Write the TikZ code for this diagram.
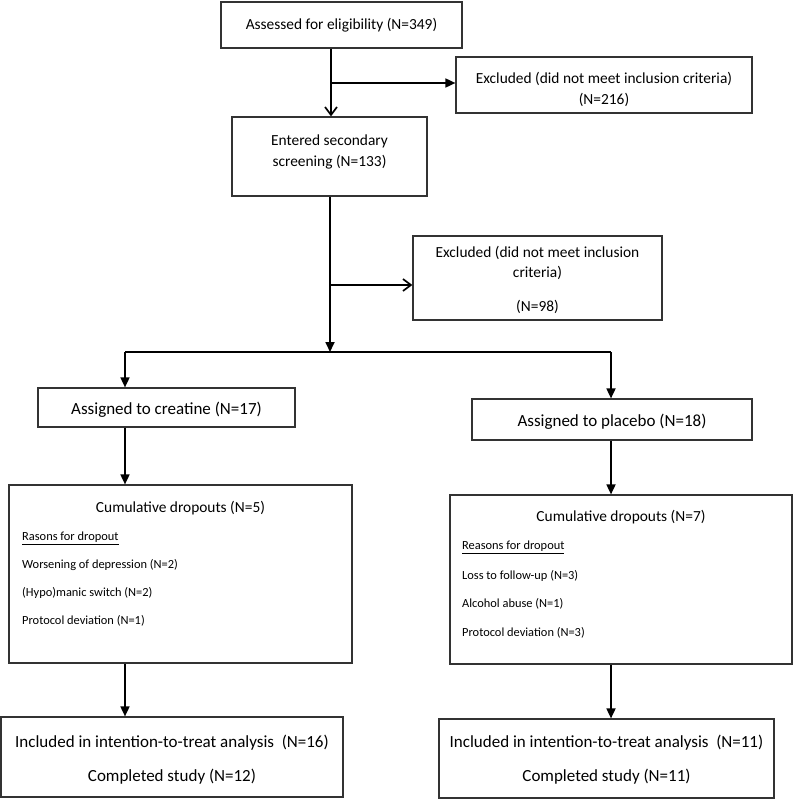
\documentclass[tikz,border=0pt]{standalone}
\usepackage{fontspec}
\setmainfont{Carlito}
\usetikzlibrary{arrows.meta}
\def\midfont{\fontsize{15.4}{21}\selectfont}
\def\bigfont{\fontsize{17}{34}\selectfont}
\def\smallfont{\fontsize{12.4}{15}\selectfont}
\tikzset{
  stage box/.style={draw=black!80, line width=1.2pt, inner sep=0pt},
  stage text/.style={inner sep=0pt, align=center, font=\midfont},
  reason/.style={inner sep=0pt, anchor=west, font=\smallfont},
  flow/.style={draw=black, line width=1.7pt, -{Triangle[width=9pt,length=10pt]}},
  open flow/.style={draw=black, line width=1.7pt, -{Straight Barb[width=12pt,length=8pt]}},
  link/.style={draw=black, line width=1.7pt}
}
% box from (x1,y1) to (x2,y2)
\def\Stage#1#2#3#4#5{%
  \node[stage box, minimum width={(#4-#2)*1pt}, minimum height={(#5-#3)*1pt}]
    (#1) at ({(#2+#4)/2},{(#3+#5)/2}) {};
}

\begin{document}
\begin{tikzpicture}[x=1pt, y=-1pt]
\useasboundingbox (0,0) rectangle (794,800);
\Stage{assess}{221}{2}{462}{48}
\Stage{exclA}{456}{57}{752}{113}
\Stage{screen}{232}{117}{427}{196}
\Stage{exclB}{413}{236}{662}{320}
\Stage{creat}{38}{388}{295}{427}
\Stage{plac}{472}{399}{752}{440}
\Stage{creatDrop}{9}{485}{352}{663}
\Stage{placDrop}{450}{495}{792}{664}
\Stage{creatEnd}{1}{717}{343}{797}
\Stage{placEnd}{439}{719}{774}{798}

\node[stage text] (assessT) at (341.5,25) {Assessed for eligibility (N=349)};
\node[stage text] (exclAT) at (604,89.5) {Excluded (did not meet inclusion criteria)\\(N=216)};
\node[stage text] (screenT) at (329.5,151.5) {Entered secondary\\screening (N=133)};
\node[stage text, font=\fontsize{15.4}{20}\selectfont] (exclBT) at (537.5,280)
  {Excluded (did not meet inclusion\\criteria)\\[14pt](N=98)};
\node[stage text, font=\bigfont] (creatT) at (166.5,409.5) {Assigned to creatine (N=17)};
\node[stage text, font=\bigfont] (placT) at (612,421.5) {Assigned to placebo (N=18)};

\node[stage text] (creatDropT) at (180.5,508) {Cumulative dropouts (N=5)};
\node[reason] (cr0) at (22,538) {\underline{Rasons for dropout}};
\node[reason] (cr1) at (22,565) {Worsening of depression (N=2)};
\node[reason] (cr2) at (22,593) {(Hypo)manic switch (N=2)};
\node[reason] (cr3) at (22,621) {Protocol deviation (N=1)};

\node[stage text] (placDropT) at (621,517) {Cumulative dropouts (N=7)};
\node[reason] (pr0) at (462,547) {\underline{Reasons for dropout}};
\node[reason] (pr1) at (462,576) {Loss to follow-up (N=3)};
\node[reason] (pr2) at (462,604) {Alcohol abuse (N=1)};
\node[reason] (pr3) at (462,633) {Protocol deviation (N=3)};

\node[stage text, font=\bigfont] (creatEndT) at (172,760)
  {Included in intention-to-treat analysis~~(N=16)\\Completed study (N=12)};
\node[stage text, font=\bigfont] (placEndT) at (606.5,760)
  {Included in intention-to-treat analysis~~(N=11)\\Completed study (N=11)};

\coordinate (splitA) at (331,83);
\coordinate (splitB) at (330,285);
\coordinate (fork) at (330,352);
\coordinate (forkL) at (125,352);
\coordinate (forkR) at (611,352);

\draw[link] (assess.south -| splitA) -- (splitA);
\draw[open flow] (splitA) -- (screen.north -| splitA);
\draw[flow] (splitA) -- (splitA -| exclA.west);
\draw[link] (screen.south -| splitB) -- (splitB);
\draw[open flow] (splitB) -- (splitB -| exclB.west);
\draw[flow] (splitB) -- (fork);
\draw[link] (forkL) -- (forkR);
\draw[flow] (forkL) -- (forkL |- creat.north);
\draw[flow] (forkR) -- (forkR |- plac.north);
\draw[flow] (forkL |- creat.south) -- (forkL |- creatDrop.north);
\draw[flow] (forkR |- plac.south) -- (forkR |- placDrop.north);
\draw[flow] (forkL |- creatDrop.south) -- (forkL |- creatEnd.north);
\draw[flow] (forkR |- placDrop.south) -- (forkR |- placEnd.north);
\end{tikzpicture}
\end{document}
